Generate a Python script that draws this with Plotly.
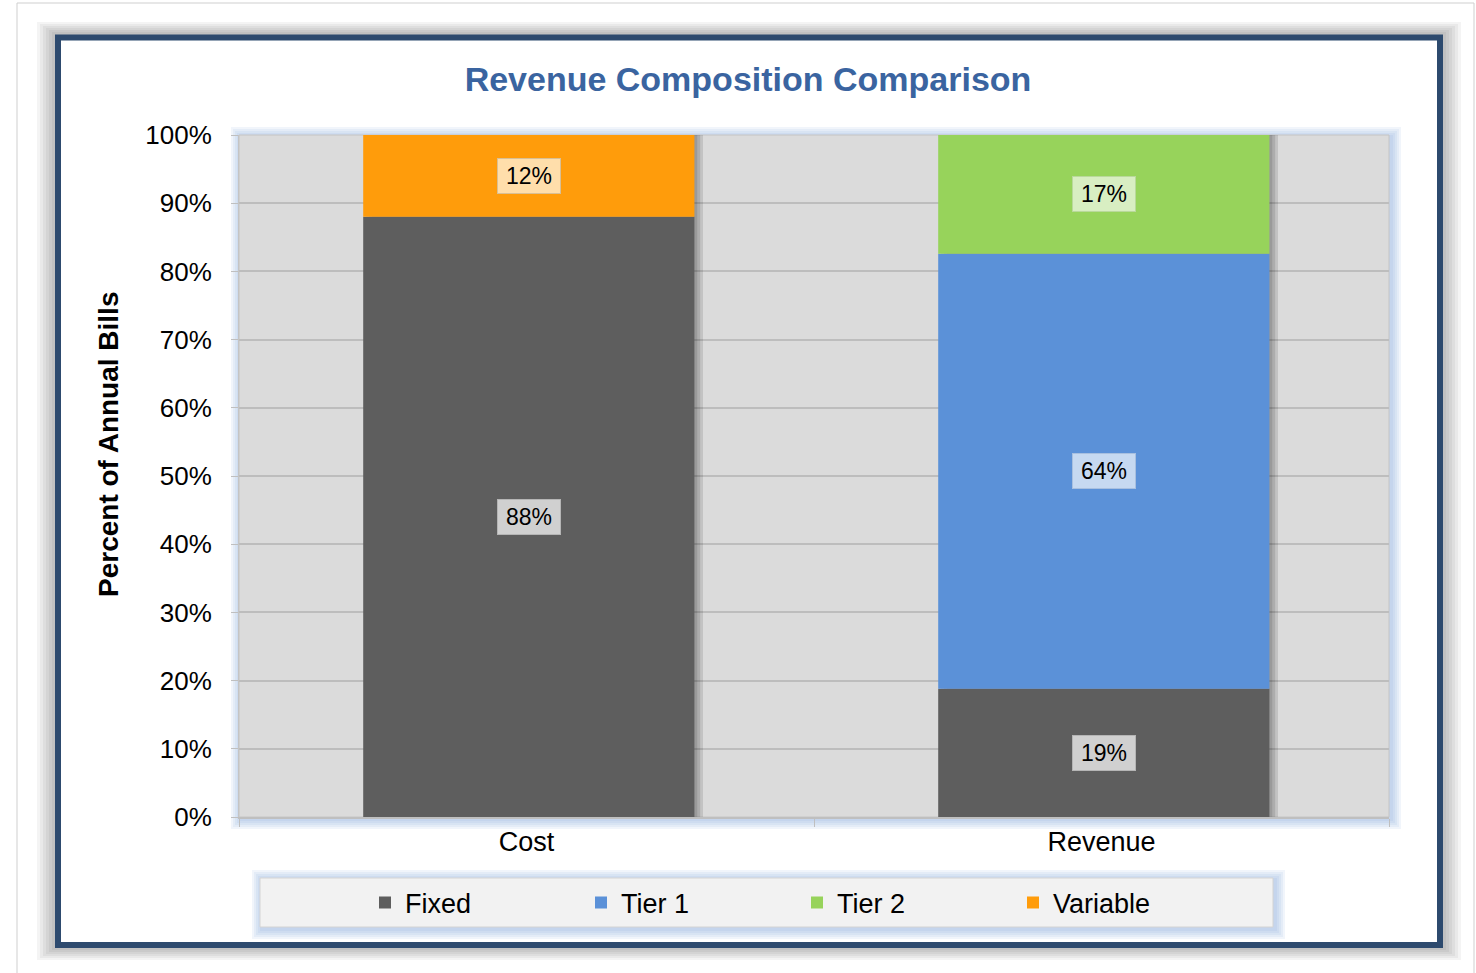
import plotly.graph_objects as go

# ---------------- data ----------------
categories = ["Cost", "Revenue"]
series_names = ["Fixed", "Tier 1", "Tier 2", "Variable"]
fixed = [88.0, 18.8]
tier1 = [0.0, 63.8]
tier2 = [0.0, 17.4]
variable = [12.0, 0.0]
y_tick_values = [0, 10, 20, 30, 40, 50, 60, 70, 80, 90, 100]
y_tick_labels = ["0%", "10%", "20%", "30%", "40%", "50%", "60%", "70%", "80%", "90%", "100%"]
y_axis_title = "Percent of Annual Bills"
chart_title = "Revenue Composition Comparison"

series_values = [fixed, tier1, tier2, variable]

# ---------------- style ----------------
bar_colors = ["#5E5E5E", "#5B91D8", "#97D35B", "#FF9C0B"]
label_bg = ["#D0D0D0", "#C6D9F1", "#D8EEC2", "#FFDEAB"]
label_border = ["#B5B5B5", "#A8C0E0", "#B9D99B", "#D9BF95"]
FONT = "Liberation Sans, Arial, sans-serif"

W, H = 1476, 973
ML, MR, MT, MB = 239, 87, 135, 156
PW = W - ML - MR
PH = H - MT - MB


def fx(px):
    return (px - ML) / PW


def fy(py):
    return 1 - (py - MT) / PH


shapes = []


def rect(x0, y0, x1, y1, fill, line_color="rgba(0,0,0,0)", line_width=0):
    shapes.append(dict(type="rect", xref="paper", yref="paper",
                       x0=fx(x0), x1=fx(x1), y0=fy(y1), y1=fy(y0),
                       fillcolor=fill, line=dict(color=line_color, width=line_width),
                       layer="below"))


# outer light border
rect(17, 3, 1474, 1000, "white", "#CFCFCF", 1)
# frame drop shadow
for k in range(1, 7):
    rect(55 - 3 * k, 34 - 2 * k, 1443 + 3 * k, 948 + 2 * k, "rgba(0,0,0,0.045)")
# dark blue frame
rect(58, 37.5, 1440, 945, "white", "#2D4A6E", 6)
# plot area glow
for k in range(1, 6):
    e = 2 * k
    rect(239 - e + 2, 135 - e + 2, 1389 + e + 2, 817 + e + 2, "rgba(120,160,215,0.10)")
# plot area
rect(239, 135, 1389, 817, "#DBDBDB", "#C4C4C4", 1)
# legend glow + box
for k in range(1, 6):
    e = 2 * k
    rect(260 - e + 2, 878 - e + 2, 1273 + e + 2, 927 + e + 2, "rgba(120,160,215,0.10)")
rect(260, 878, 1273, 927, "#F2F2F2", "#D4D4D4", 1)

fig = go.Figure()

BAR_W = 0.576
totals = [sum(v[i] for v in series_values) for i in range(len(categories))]

# soft shadow on the right of the stacked bars
for k in range(3, 0, -1):
    fig.add_trace(go.Bar(x=categories, y=totals, base=[0] * len(categories),
                         width=BAR_W, offset=-BAR_W / 2 + 0.004 + k * 0.005,
                         marker=dict(color="rgba(0,0,0,0.11)", line=dict(width=0)),
                         showlegend=False, hoverinfo="skip"))

annotations = []
bases = [0.0] * len(categories)
for i, (name, vals) in enumerate(zip(series_names, series_values)):
    fig.add_trace(go.Bar(x=categories, y=vals, base=list(bases), width=BAR_W,
                         offset=-BAR_W / 2 + 0.004,
                         name=name,
                         marker=dict(color=bar_colors[i], line=dict(width=0))))
    for j, v in enumerate(vals):
        if v > 0:
            annotations.append(dict(x=j + 0.004, y=bases[j] + v / 2, xref="x", yref="y",
                                    text=f"{round(v)}%", showarrow=False,
                                    font=dict(family=FONT, size=23, color="black"),
                                    bgcolor=label_bg[i], bordercolor=label_border[i],
                                    borderwidth=1, borderpad=2, width=58, height=30))
    bases = [b + v for b, v in zip(bases, vals)]

# y axis title (placed as in the original, slightly above the axis centre)
annotations.append(dict(text=y_axis_title, xref="paper", yref="paper",
                        x=fx(108), y=fy(445), xanchor="center", yanchor="middle",
                        textangle=-90, showarrow=False,
                        font=dict(family=FONT, size=28, color="black", weight="bold")))

fig.update_layout(
    width=W, height=H,
    margin=dict(l=ML, r=MR, t=MT, b=MB, pad=0),
    paper_bgcolor="white",
    plot_bgcolor="rgba(0,0,0,0)",
    barmode="overlay",
    font=dict(family=FONT, color="black"),
    title=dict(text=chart_title,
               font=dict(family=FONT, size=34, color="#3A64A0", weight="bold"),
               x=748 / W, xref="container", xanchor="center",
               y=1 - 79 / H, yref="container", yanchor="middle"),
    shapes=shapes,
    annotations=annotations,
    legend=dict(orientation="h", x=fx(365), xanchor="left", y=fy(903), yanchor="middle",
                bgcolor="rgba(0,0,0,0)", borderwidth=0,
                font=dict(family=FONT, size=27, color="black"),
                entrywidth=171, entrywidthmode="pixels", traceorder="normal"),
    xaxis=dict(type="category", categoryorder="array", categoryarray=categories,
               range=[-0.5, 1.5], tickson="boundaries", ticks="outside", ticklen=8,
               tickcolor="#BFBFBF", showline=True, linecolor="#BFBFBF", linewidth=1.5,
               showgrid=False, tickfont=dict(family=FONT, size=27, color="black"),
               fixedrange=True),
    yaxis=dict(range=[0, 100], tickvals=y_tick_values, ticktext=y_tick_labels,
               showgrid=True, gridcolor="#BDBDBD", gridwidth=1.5, zeroline=False,
               ticks="outside", ticklen=7, tickcolor="#BFBFBF",
               showline=True, linecolor="#C4C4C4", linewidth=1,
               tickfont=dict(family=FONT, size=26, color="black"),
               ticklabelstandoff=14,
               fixedrange=True),
)

fig.write_html("out.html", config={"displayModeBar": False},
               post_script="document.body.style.margin='0';")
